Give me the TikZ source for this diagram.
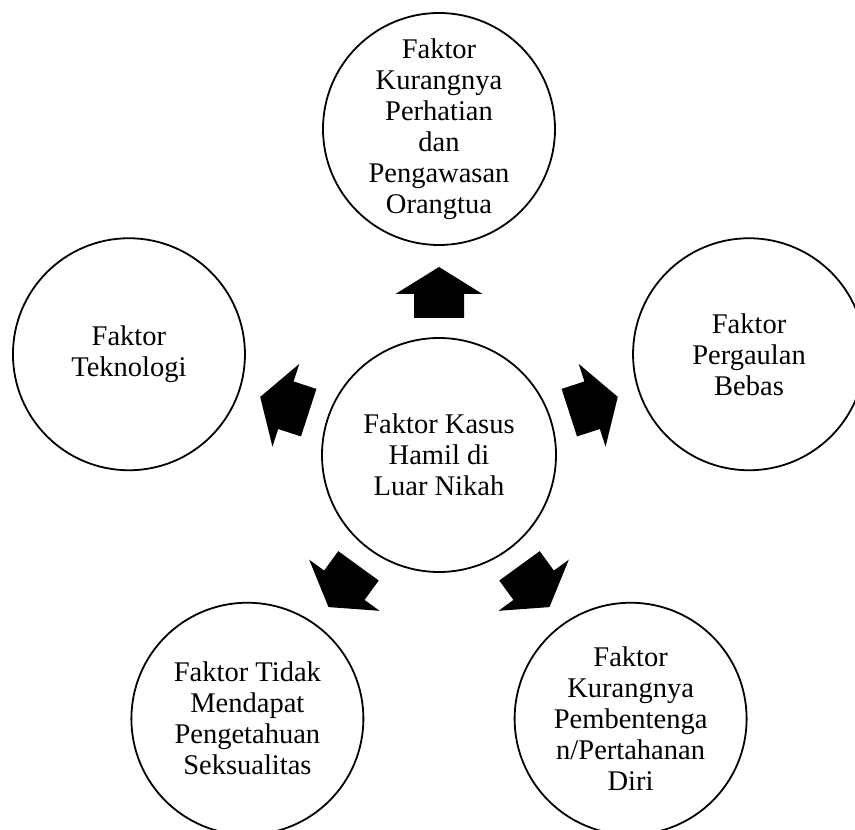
\documentclass[tikz,border=0pt]{standalone}
\usepackage{fontspec}
\setmainfont{Liberation Serif}
\usetikzlibrary{calc}
\tikzset{
  bubble/.style={circle, draw=black, line width=1.8pt, fill=white, minimum size=232pt, inner sep=0pt, align=center, font=\fontsize{28.5}{31}\selectfont},
  hub/.style={bubble, minimum size=234pt},
  blockarrow/.style={fill=black, draw=none}
}
\begin{document}
\begin{tikzpicture}[x=1pt, y=1pt]
\useasboundingbox (0,0) rectangle (855,830);
\clip (0,0) rectangle (855,830);
\fill[white] (0,0) rectangle (855,830);
\coordinate (o) at (439,375);
\node[hub] (c) at (o) {Faktor Kasus\\Hamil di\\Luar Nikah};
\node[bubble] (t) at ($(o)+(90:326)$) {Faktor\\Kurangnya\\Perhatian\\dan\\Pengawasan\\Orangtua};
\node[bubble] (r) at ($(o)+(18:326)$) {Faktor\\Pergaulan\\Bebas};
\node[bubble] (l) at ($(o)+(162:326)$) {Faktor\\Teknologi};
\node[bubble] (bl) at ($(o)+(-126:326)$) {Faktor Tidak\\Mendapat\\Pengetahuan\\Seksualitas};
\node[bubble] (br) at ($(o)+(-54:326)$) {Faktor\\Kurangnya\\Pembentenga\\n/Pertahanan\\Diri};
\foreach \ang in {90,18,162,-126,-54}{
  \path[blockarrow, shift={(c.center)}, rotate=\ang]
    (137,25) -- (161,25) -- (161,43.5) -- (188,0) -- (161,-43.5) -- (161,-25) -- (137,-25) -- cycle;
}
\end{tikzpicture}
\end{document}
